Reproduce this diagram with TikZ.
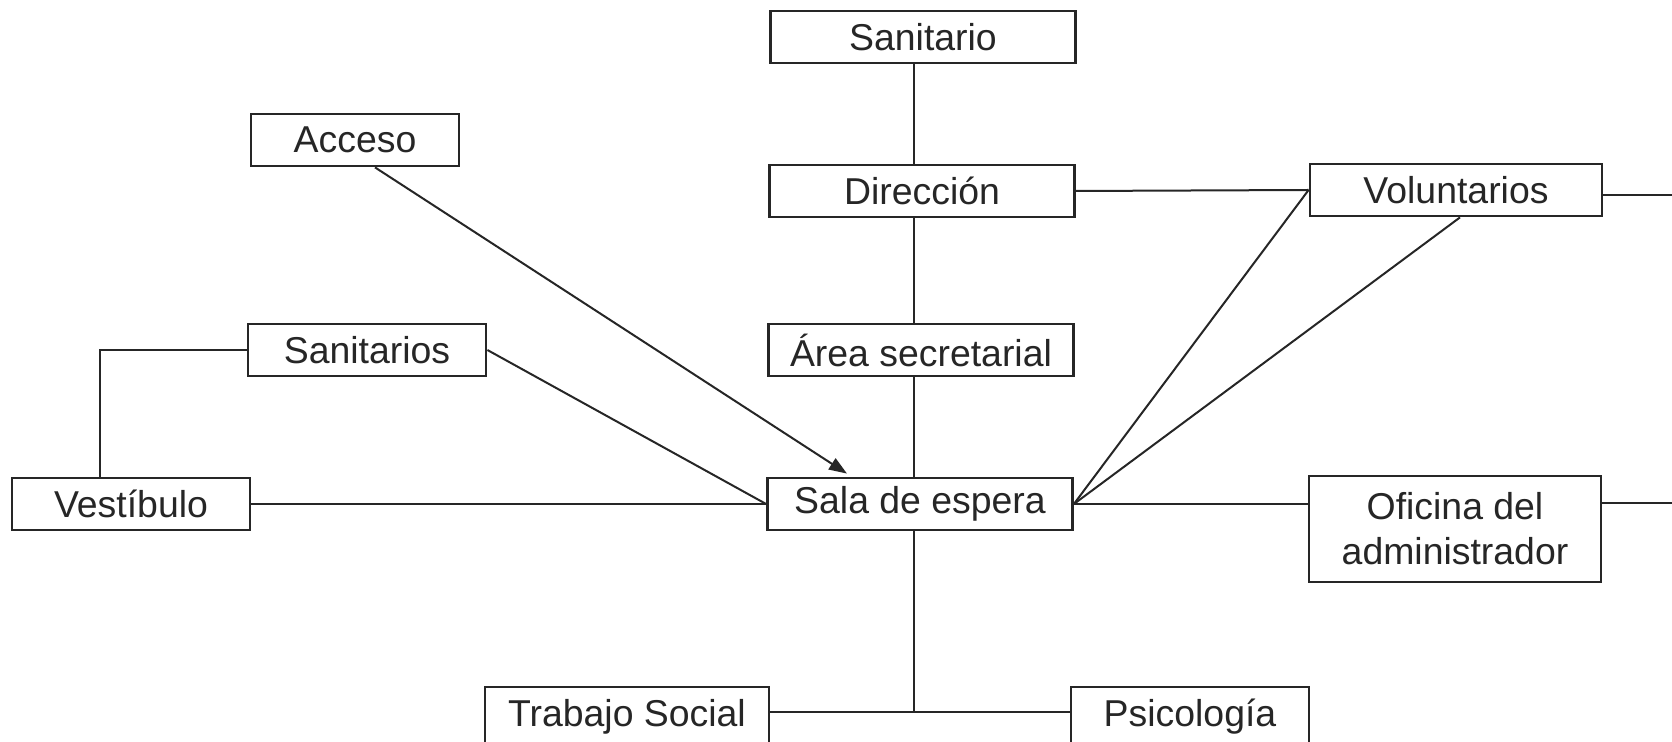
\documentclass[tikz,border=0pt]{standalone}
\usepackage{fontspec}
\setmainfont{Liberation Sans}
\usepackage{tikz}
\usetikzlibrary{arrows.meta,positioning,calc}

\begin{document}
\begin{tikzpicture}[
  x=0.5pt,y=-0.5pt,
  font=\fontsize{18.7}{22.5}\selectfont,
  room/.style={draw=black!85,line width=1.4pt,inner sep=0pt,minimum height=26pt,align=center,text=black!85},
  wide/.style={room,minimum width=152.5pt},
  mid/.style={room,minimum width=146pt},
  small/.style={room,minimum width=119pt},
  cut/.style={anchor=base,text height=20pt,text depth=30pt},
  link/.style={draw=black!85,line width=1pt}
]
\clip (0,0) rectangle (1672,742);
% main column
\node[wide] (sanit) at (923,37) {Sanitario};
\node[wide] (dir) at (922,191) {Dirección};
\node[wide] (area) at (921,350) {Área secretarial};
\node[wide] (sala) at (920,504) {Sala de espera};
% left side
\node[room,minimum width=104pt] (acc) at (355,140) {Acceso};
\node[small] (sans) at (367,350) {Sanitarios};
\node[small] (vest) at (131,504) {Vestíbulo};
% right side
\node[mid] (vol) at (1456,190) {Voluntarios};
\node[mid,minimum height=53pt] (ofi) at (1455,529) {Oficina del\\administrador};
% bottom row, runs off the page
\node[room,cut,minimum width=142pt] (ts) at (627,727) {Trabajo Social};
\node[small,cut] (psi) at (1190,727) {Psicología};

\coordinate (spine) at (914,0);
\coordinate (bend) at (100,350);
\coordinate (join) at (914,712);
\coordinate (offvol) at (1672,195);
\coordinate (offofi) at (1672,503);

\draw[link] (sanit.south -| spine) -- (dir.north -| spine);
\draw[link] (dir.south -| spine) -- (area.north -| spine);
\draw[link] (area.south -| spine) -- (sala.north -| spine);
\draw[link] (sala.south -| spine) -- (join);
\draw[link] (ts.east |- join) -- (psi.west |- join);
\draw[link] (dir.east) -- (vol.west);
\draw[link] (vol.east |- offvol) -- (offvol);
\draw[link] (sala.east) -- (vol.west);
\draw[link] (sala.east) -- ([xshift=2pt]vol.south);
\draw[link] (sala.east) -- (sala.east -| ofi.west);
\draw[link] (ofi.east |- offofi) -- (offofi);
\draw[link] (vest.east) -- (sala.west);
\draw[link] (sans.east) -- (sala.west);
\draw[link] (sans.west) -- (bend) -- (bend |- vest.north);
\draw[link,-{Triangle[length=9pt,width=6.5pt]}] ([xshift=10pt]acc.south) -- ([xshift=-36.5pt,yshift=1.5pt]sala.north);
\end{tikzpicture}
\end{document}
